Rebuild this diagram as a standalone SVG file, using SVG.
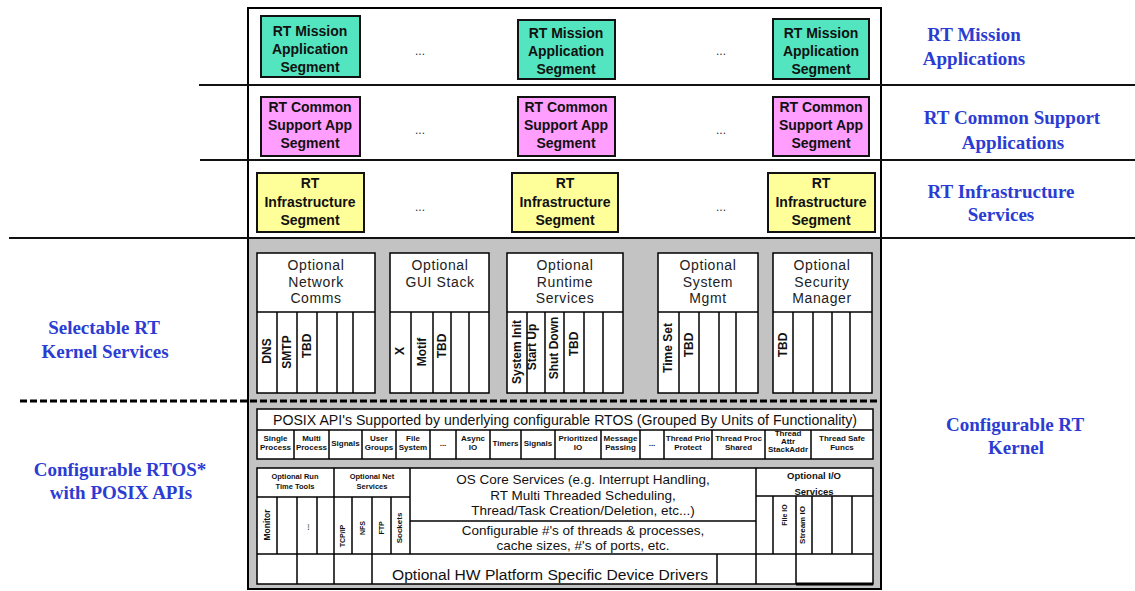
<svg xmlns="http://www.w3.org/2000/svg" width="1135" height="591" viewBox="0 0 1135 591">
<style>
.bg{fill:#fff}
.gray{fill:#c3c3c3}
.frame{fill:none;stroke:#000;stroke-width:2}
.sep{stroke:#111;stroke-width:2}
.dash{stroke:#000;stroke-width:3;stroke-dasharray:7 3}
.seg{stroke:#111;stroke-width:2}
.mission{fill:#52e5bf}
.common{fill:#ff9eff}
.infra{fill:#ffff99}
.segt{font-family:"Liberation Sans",Arial,sans-serif;font-weight:bold;font-size:14px;text-anchor:middle;fill:#111}
.dots{font-family:"Liberation Sans",Arial,sans-serif;font-size:12px;text-anchor:middle;fill:#333}
.box{fill:#fff;stroke:#000;stroke-width:1.5}
.ln{stroke:#000;stroke-width:1.5}
.hdr{font-family:"Liberation Sans",Arial,sans-serif;font-size:14px;text-anchor:middle;letter-spacing:0.6px;fill:#222}
.vt{font-family:"Liberation Sans",Arial,sans-serif;font-weight:bold;font-size:12px;text-anchor:middle;fill:#111}
.sm{font-family:"Liberation Sans",Arial,sans-serif;font-weight:bold;font-size:7.5px;text-anchor:middle;fill:#111}
.px{font-family:"Liberation Sans",Arial,sans-serif;font-weight:bold;font-size:8px;text-anchor:middle;fill:#111}
.mid{font-family:"Liberation Sans",Arial,sans-serif;font-size:13.5px;text-anchor:middle;fill:#111}
.blue{font-family:"Liberation Serif","Times New Roman",serif;font-weight:bold;font-size:19px;text-anchor:middle;fill:#2b3cd3}
</style>

<g id="frame">
<rect class="bg" x="0" y="0" width="1135" height="591"/>
<rect class="gray" x="248" y="237" width="633" height="352"/>
<rect class="frame" x="248" y="8" width="633" height="581"/>
</g>

<g id="connectors">
<line class="sep" x1="199" y1="85" x2="1135" y2="85"/>
<line class="sep" x1="200" y1="160" x2="1135" y2="160"/>
<line class="sep" x1="9" y1="238" x2="1135" y2="238"/>
<line class="dash" x1="20" y1="401" x2="881" y2="401"/>
</g>

<g id="mission-1"><rect class="seg mission" x="261" y="16" width="99" height="61"/>
<text class="segt" x="310" y="36">RT Mission</text><text class="segt" x="310" y="54">Application</text><text class="segt" x="310" y="72">Segment</text></g>
<g id="mission-2"><rect class="seg mission" x="518" y="20" width="97" height="59"/>
<text class="segt" x="566" y="38">RT Mission</text><text class="segt" x="566" y="56">Application</text><text class="segt" x="566" y="74">Segment</text></g>
<g id="mission-3"><rect class="seg mission" x="773" y="19" width="96" height="60"/>
<text class="segt" x="821" y="38">RT Mission</text><text class="segt" x="821" y="56">Application</text><text class="segt" x="821" y="74">Segment</text></g>

<g id="common-1"><rect class="seg common" x="261" y="97" width="99" height="59"/>
<text class="segt" x="310" y="112">RT Common</text><text class="segt" x="310" y="130">Support App</text><text class="segt" x="310" y="148">Segment</text></g>
<g id="common-2"><rect class="seg common" x="518" y="97" width="97" height="59"/>
<text class="segt" x="566" y="112">RT Common</text><text class="segt" x="566" y="130">Support App</text><text class="segt" x="566" y="148">Segment</text></g>
<g id="common-3"><rect class="seg common" x="773" y="97" width="96" height="59"/>
<text class="segt" x="821" y="112">RT Common</text><text class="segt" x="821" y="130">Support App</text><text class="segt" x="821" y="148">Segment</text></g>

<g id="infra-1"><rect class="seg infra" x="257" y="173" width="107" height="59"/>
<text class="segt" x="310" y="188">RT</text><text class="segt" x="310" y="207">Infrastructure</text><text class="segt" x="310" y="225">Segment</text></g>
<g id="infra-2"><rect class="seg infra" x="512" y="173" width="106" height="59"/>
<text class="segt" x="565" y="188">RT</text><text class="segt" x="565" y="207">Infrastructure</text><text class="segt" x="565" y="225">Segment</text></g>
<g id="infra-3"><rect class="seg infra" x="768" y="173" width="107" height="59"/>
<text class="segt" x="821" y="188">RT</text><text class="segt" x="821" y="207">Infrastructure</text><text class="segt" x="821" y="225">Segment</text></g>

<g id="ellipses">
<text class="dots" x="420" y="55">...</text><text class="dots" x="721" y="55">...</text>
<text class="dots" x="420" y="134">...</text><text class="dots" x="721" y="134">...</text>
<text class="dots" x="420" y="211">...</text><text class="dots" x="721" y="211">...</text>
</g>

<g id="network-comms">
<rect class="box" x="257" y="253" width="118" height="140"/>
<line class="ln" x1="257" y1="312" x2="375" y2="312"/>
<line class="ln" x1="277" y1="312" x2="277" y2="393"/><line class="ln" x1="297" y1="312" x2="297" y2="393"/><line class="ln" x1="317" y1="312" x2="317" y2="393"/><line class="ln" x1="337" y1="312" x2="337" y2="393"/><line class="ln" x1="353" y1="312" x2="353" y2="393"/>
<text class="hdr" x="316" y="270">Optional</text><text class="hdr" x="316" y="287">Network</text><text class="hdr" x="316" y="303">Comms</text>
<text class="vt" transform="translate(267,351) rotate(-90)" dy="4.3">DNS</text>
<text class="vt" transform="translate(287,352) rotate(-90)" dy="4.3">SMTP</text>
<text class="vt" transform="translate(307,346) rotate(-90)" dy="4.3">TBD</text>
</g>

<g id="gui-stack">
<rect class="box" x="390" y="253" width="99" height="140"/>
<line class="ln" x1="390" y1="312" x2="489" y2="312"/>
<line class="ln" x1="411" y1="312" x2="411" y2="393"/><line class="ln" x1="433" y1="312" x2="433" y2="393"/><line class="ln" x1="451" y1="312" x2="451" y2="393"/><line class="ln" x1="469" y1="312" x2="469" y2="393"/>
<text class="hdr" x="440" y="270">Optional</text><text class="hdr" x="440" y="287">GUI Stack</text>
<text class="vt" transform="translate(400,351) rotate(-90)" dy="4.3">X</text>
<text class="vt" transform="translate(422,352) rotate(-90)" dy="4.3">Motif</text>
<text class="vt" transform="translate(442,346) rotate(-90)" dy="4.3">TBD</text>
</g>

<g id="runtime-services">
<rect class="box" x="507" y="253" width="116" height="140"/>
<line class="ln" x1="507" y1="312" x2="623" y2="312"/>
<line class="ln" x1="527" y1="312" x2="527" y2="393"/><line class="ln" x1="545" y1="312" x2="545" y2="393"/><line class="ln" x1="564" y1="312" x2="564" y2="393"/><line class="ln" x1="584" y1="312" x2="584" y2="393"/><line class="ln" x1="603" y1="312" x2="603" y2="393"/>
<text class="hdr" x="565" y="270">Optional</text><text class="hdr" x="565" y="287">Runtime</text><text class="hdr" x="565" y="303">Services</text>
<text class="vt" transform="translate(517,352) rotate(-90)" dy="4.3">System Init</text>
<text class="vt" transform="translate(532,347) rotate(-90)" dy="4.3">Start Up</text>
<text class="vt" transform="translate(554,348) rotate(-90)" dy="4.3">Shut Down</text>
<text class="vt" transform="translate(574,344) rotate(-90)" dy="4.3">TBD</text>
</g>

<g id="system-mgmt">
<rect class="box" x="658" y="253" width="100" height="140"/>
<line class="ln" x1="658" y1="312" x2="758" y2="312"/>
<line class="ln" x1="679" y1="312" x2="679" y2="393"/><line class="ln" x1="699" y1="312" x2="699" y2="393"/><line class="ln" x1="719" y1="312" x2="719" y2="393"/><line class="ln" x1="736" y1="312" x2="736" y2="393"/>
<text class="hdr" x="708" y="270">Optional</text><text class="hdr" x="708" y="287">System</text><text class="hdr" x="708" y="303">Mgmt</text>
<text class="vt" transform="translate(668,348) rotate(-90)" dy="4.3">Time Set</text>
<text class="vt" transform="translate(689,345) rotate(-90)" dy="4.3">TBD</text>
</g>

<g id="security-manager">
<rect class="box" x="773" y="253" width="99" height="140"/>
<line class="ln" x1="773" y1="312" x2="872" y2="312"/>
<line class="ln" x1="793" y1="312" x2="793" y2="393"/><line class="ln" x1="813" y1="312" x2="813" y2="393"/><line class="ln" x1="832" y1="312" x2="832" y2="393"/><line class="ln" x1="850" y1="312" x2="850" y2="393"/>
<text class="hdr" x="822" y="270">Optional</text><text class="hdr" x="822" y="287">Security</text><text class="hdr" x="822" y="303">Manager</text>
<text class="vt" transform="translate(783,345) rotate(-90)" dy="4.3">TBD</text>
</g>

<g id="posix-apis">
<rect class="box" x="257" y="409" width="616" height="50"/>
<line class="ln" x1="257" y1="430" x2="873" y2="430"/>
<text class="mid" x="565" y="425" textLength="584" lengthAdjust="spacingAndGlyphs" style="font-size:14.5px">POSIX API's Supported by underlying configurable RTOS (Grouped By Units of Functionality)</text>
<g class="ln">
<line x1="294" y1="430" x2="294" y2="459"/><line x1="329" y1="430" x2="329" y2="459"/><line x1="362" y1="430" x2="362" y2="459"/><line x1="396" y1="430" x2="396" y2="459"/><line x1="430" y1="430" x2="430" y2="459"/><line x1="456" y1="430" x2="456" y2="459"/><line x1="490" y1="430" x2="490" y2="459"/><line x1="521" y1="430" x2="521" y2="459"/><line x1="555" y1="430" x2="555" y2="459"/><line x1="601" y1="430" x2="601" y2="459"/><line x1="640" y1="430" x2="640" y2="459"/><line x1="664" y1="430" x2="664" y2="459"/><line x1="712" y1="430" x2="712" y2="459"/><line x1="765" y1="430" x2="765" y2="459"/><line x1="811" y1="430" x2="811" y2="459"/>
</g>
<text class="px" x="275.5" y="441">Single</text><text class="px" x="275.5" y="450">Process</text>
<text class="px" x="311.5" y="441">Multi</text><text class="px" x="311.5" y="450">Process</text>
<text class="px" x="345.5" y="446">Signals</text>
<text class="px" x="379" y="441">User</text><text class="px" x="379" y="450">Groups</text>
<text class="px" x="413" y="441">File</text><text class="px" x="413" y="450">System</text>
<text class="px" x="443" y="446">...</text>
<text class="px" x="473" y="441">Async</text><text class="px" x="473" y="450">IO</text>
<text class="px" x="505.5" y="446">Timers</text>
<text class="px" x="538" y="446">Signals</text>
<text class="px" x="578" y="441">Prioritized</text><text class="px" x="578" y="450">IO</text>
<text class="px" x="620.5" y="441">Message</text><text class="px" x="620.5" y="450">Passing</text>
<text class="px" x="652" y="446">...</text>
<text class="px" x="688" y="441">Thread Prio</text><text class="px" x="688" y="450">Protect</text>
<text class="px" x="738.5" y="441">Thread Proc</text><text class="px" x="738.5" y="450">Shared</text>
<text class="px" x="788" y="436">Thread</text><text class="px" x="788" y="444">Attr</text><text class="px" x="788" y="452">StackAddr</text>
<text class="px" x="842" y="441">Thread Safe</text><text class="px" x="842" y="450">Funcs</text>
</g>

<g id="rtos-core">
<rect class="box" x="257" y="468" width="616" height="116"/>
<line class="ln" x1="257" y1="554" x2="873" y2="554"/>
<line class="ln" x1="410" y1="468" x2="410" y2="554"/>
<line class="ln" x1="756" y1="468" x2="756" y2="584"/>
<line class="ln" x1="410" y1="521" x2="756" y2="521"/>
<line class="ln" x1="334" y1="468" x2="334" y2="584"/>
<line class="ln" x1="297" y1="497" x2="297" y2="584"/>
<line class="ln" x1="372" y1="497" x2="372" y2="584"/>
<line class="ln" x1="717" y1="554" x2="717" y2="584"/>
<line class="ln" x1="796" y1="496" x2="796" y2="584"/>
<line class="ln" x1="796" y1="584" x2="873" y2="584" style="stroke-width:3"/>
</g>

<g id="run-time-tools">
<line class="ln" x1="257" y1="497" x2="410" y2="497"/>
<line class="ln" x1="277" y1="497" x2="277" y2="554"/><line class="ln" x1="317" y1="497" x2="317" y2="554"/>
<text class="sm" x="295" y="479">Optional Run</text><text class="sm" x="295" y="489">Time Tools</text>
<text class="sm" transform="translate(267,525) rotate(-90)" dy="3" style="font-size:8.5px">Monitor</text>
<text class="sm" transform="translate(307,527) rotate(-90)" dy="2">...</text>
</g>

<g id="net-services">
<line class="ln" x1="352" y1="497" x2="352" y2="554"/><line class="ln" x1="391" y1="497" x2="391" y2="554"/>
<text class="sm" x="372" y="479">Optional Net</text><text class="sm" x="372" y="489">Services</text>
<text class="sm" transform="translate(342,536) rotate(-90)" dy="2.5" style="font-size:7px">TCP/IP</text>
<text class="sm" transform="translate(362,528) rotate(-90)" dy="2.5" style="font-size:7px">NFS</text>
<text class="sm" transform="translate(381,528) rotate(-90)" dy="2.5" style="font-size:7px">FTP</text>
<text class="sm" transform="translate(399,528) rotate(-90)" dy="2.8" style="font-size:8px">Sockets</text>
</g>

<g id="os-core-services">
<text class="mid" x="583" y="484">OS Core Services (e.g. Interrupt Handling,</text>
<text class="mid" x="583" y="500">RT Multi Threaded Scheduling,</text>
<text class="mid" x="583" y="515">Thread/Task Creation/Deletion, etc...)</text>
</g>

<g id="configurable-counts">
<text class="mid" x="583" y="535">Configurable #'s of threads &amp; processes,</text>
<text class="mid" x="583" y="550">cache sizes, #'s of ports, etc.</text>
</g>

<g id="device-drivers">
<text class="mid" x="550" y="580" textLength="316" lengthAdjust="spacingAndGlyphs" style="font-size:14px">Optional HW Platform Specific Device Drivers</text>
</g>

<g id="io-services">
<line class="ln" x1="756" y1="496" x2="873" y2="496"/>
<line class="ln" x1="773" y1="496" x2="773" y2="554"/><line class="ln" x1="812" y1="496" x2="812" y2="554"/><line class="ln" x1="832" y1="496" x2="832" y2="554"/><line class="ln" x1="852" y1="496" x2="852" y2="554"/>
<text class="sm" x="814" y="479" style="font-size:9.5px">Optional I/O</text><text class="sm" x="814" y="495" style="font-size:9.5px">Services</text>
<text class="sm" transform="translate(784,515) rotate(-90)" dy="2.5" style="font-size:7px">File IO</text>
<text class="sm" transform="translate(802,525) rotate(-90)" dy="2.8" style="font-size:8px">Stream IO</text>
</g>

<g id="labels">
<text class="blue" x="974" y="41">RT Mission</text><text class="blue" x="974" y="65">Applications</text>
<text class="blue" x="1012" y="124">RT Common Support</text><text class="blue" x="1013" y="149">Applications</text>
<text class="blue" x="1001" y="198">RT Infrastructure</text><text class="blue" x="1001" y="221">Services</text>
<text class="blue" x="1015" y="431">Configurable RT</text><text class="blue" x="1016" y="454">Kernel</text>
<text class="blue" x="104" y="334">Selectable RT</text><text class="blue" x="105" y="358">Kernel Services</text>
<text class="blue" x="120" y="476">Configurable RTOS*</text><text class="blue" x="121" y="499">with POSIX APIs</text>
</g>
</svg>
